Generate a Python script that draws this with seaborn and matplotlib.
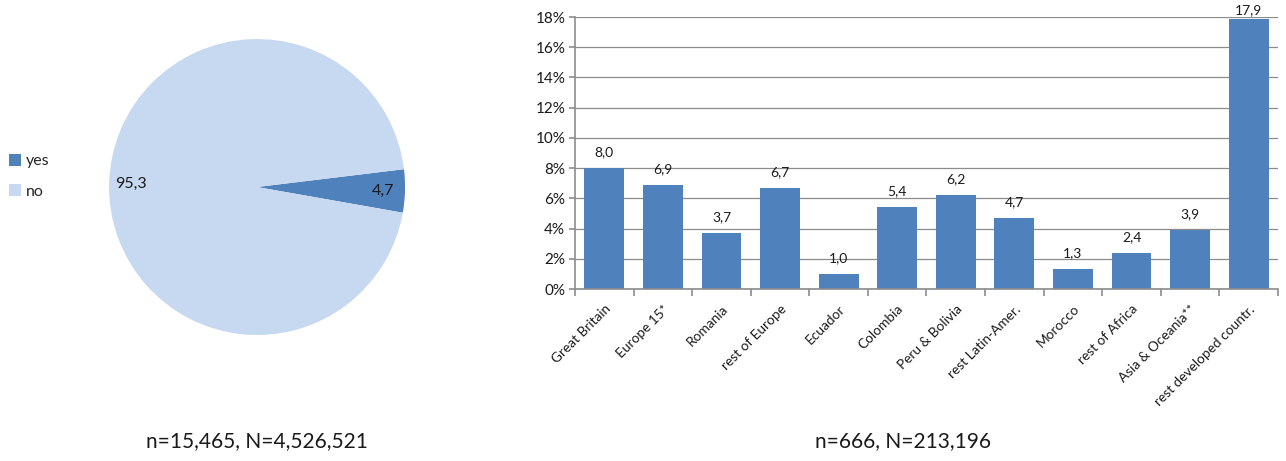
import matplotlib
matplotlib.use("Agg")
import matplotlib.pyplot as plt
from matplotlib.ticker import FuncFormatter, FixedLocator
import seaborn as sns
import pandas as pd

# Pie: share answering yes / no
pie_labels = ["yes", "no"]
pie_values = [4.7, 95.3]

# Bars: share by region of origin (%)
regions = ["Great Britain", "Europe 15*", "Romania", "rest of Europe", "Ecuador",
           "Colombia", "Peru & Bolivia", "rest Latin-Amer.", "Morocco",
           "rest of Africa", "Asia & Oceania**", "rest developed countr."]
shares = [8.0, 6.9, 3.7, 6.7, 1.0, 5.4, 6.2, 4.7, 1.3, 2.4, 3.9, 17.9]

captions = ["n=15,465, N=4,526,521", "n=666, N=213,196"]

sns.set_theme(style="white")
plt.rcParams["font.family"] = ["Lato", "DejaVu Sans"]

dark_blue = "#4F81BD"
light_blue = "#C6D9F1"
grid_grey = "#8C8C8C"
text_col = "#1a1a1a"

fig = plt.figure(figsize=(12.86, 4.61), dpi=100)

# ---- pie chart ----
ax_pie = fig.add_axes([0.0848, 0.2733, 0.2302, 0.642])
wedges, texts, autotexts = ax_pie.pie(
    pie_values, colors=[dark_blue, light_blue], startangle=-10,
    counterclock=True, radius=1.0, pctdistance=0.85,
    autopct=lambda p: f"{p:.1f}".replace(".", ","),
    textprops=dict(fontsize=11.5, color=text_col),
    wedgeprops=dict(linewidth=0))
ax_pie.set_xlim(-1, 1)
ax_pie.set_ylim(-1, 1)
ax_pie.set_aspect("equal")
ax_pie.axis("off")

fig.legend(wedges, pie_labels, loc="upper left", bbox_to_anchor=(0.002, 0.68),
           frameon=False, fontsize=11.5, handlelength=0.75, handleheight=0.75,
           handletextpad=0.3, labelspacing=1.0, borderaxespad=0)

# ---- bar chart ----
ax_bar = fig.add_axes([0.4471, 0.3731, 0.5467, 0.590])
df = pd.DataFrame({"region": regions, "share": shares})
sns.barplot(data=df, x="region", y="share", color=dark_blue, saturation=1,
            width=0.68, ax=ax_bar, linewidth=0)
ax_bar.set_ylim(0, 18)
ax_bar.set_xlim(-0.5, len(regions) - 0.5)
ax_bar.set_yticks(range(0, 19, 2))
ax_bar.yaxis.set_major_formatter(FuncFormatter(lambda v, _: f"{int(v)}%"))
ax_bar.set_xlabel("")
ax_bar.set_ylabel("")
ax_bar.yaxis.grid(True, color=grid_grey, linewidth=0.9)
ax_bar.set_axisbelow(True)
for side in ["top", "right"]:
    ax_bar.spines[side].set_visible(False)
for side in ["left", "bottom"]:
    ax_bar.spines[side].set_color(grid_grey)
    ax_bar.spines[side].set_linewidth(1.2)

ax_bar.set_xticks(range(len(regions)))
ax_bar.set_xticklabels(regions, rotation=45, ha="right", rotation_mode="anchor",
                       fontsize=9.8, color=text_col)
ax_bar.tick_params(axis="x", which="major", length=0, pad=10)
ax_bar.xaxis.set_minor_locator(FixedLocator([i - 0.5 for i in range(len(regions) + 1)]))
ax_bar.tick_params(axis="x", which="minor", length=5, color=grid_grey, width=1.2,
                   bottom=True)
ax_bar.tick_params(axis="y", length=4, color=grid_grey, width=1.2, left=True,
                   labelsize=11, labelcolor=text_col, pad=3)

for i, v in enumerate(shares):
    ax_bar.text(i, min(v + 1.05, 18.45), f"{v:.1f}".replace(".", ","),
                ha="center", va="center", fontsize=10, color=text_col,
                clip_on=False)

# ---- sample size captions ----
fig.text(257 / 1286, 1 - 441 / 461, captions[0], ha="center", va="center",
         fontsize=15, color=text_col)
fig.text(903 / 1286, 1 - 441 / 461, captions[1], ha="center", va="center",
         fontsize=15, color=text_col)

fig.savefig("out.png", dpi=100)
